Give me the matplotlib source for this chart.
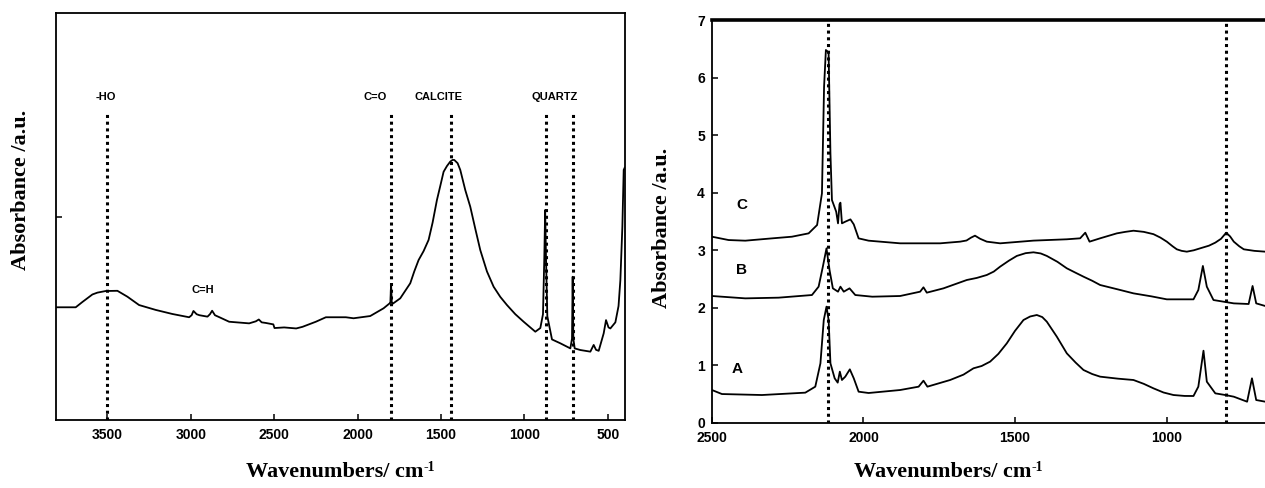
import matplotlib
matplotlib.use('Agg')
import matplotlib.pyplot as plt

plt.rcParams['font.family'] = ['Liberation Sans', 'DejaVu Sans']

# left panel: single spectrum
left_wn = [3808, 3690, 3650, 3590, 3560, 3510, 3440, 3380, 3310, 3210, 3110, 3010, 2995, 2984,
           2965, 2948, 2900, 2885, 2872, 2855, 2828, 2770, 2650, 2610, 2592, 2575, 2550,
           2505, 2498, 2440, 2368, 2330, 2250, 2190, 2070, 2024, 1924, 1844, 1808, 1803,
           1799, 1795, 1788, 1744, 1714, 1684, 1660, 1634, 1604, 1574, 1550, 1524, 1504,
           1484, 1464, 1444, 1430, 1420, 1400, 1384, 1354, 1324, 1294, 1264, 1224, 1184,
           1144, 1104, 1054, 1004, 964, 934, 904, 888, 880, 875, 870, 862, 834, 784, 724,
           714, 710, 706, 698, 664, 604, 584, 570, 554, 524, 510, 495, 484, 454, 435, 424,
           412, 404, 398]
left_abs = [0.554, 0.554, 0.580, 0.617, 0.626, 0.634, 0.635, 0.606, 0.565, 0.541, 0.521, 0.505,
            0.515, 0.536, 0.520, 0.515, 0.508, 0.520, 0.537, 0.515, 0.505, 0.483, 0.475, 0.485,
            0.494, 0.480, 0.477, 0.470, 0.452, 0.455, 0.450, 0.458, 0.483, 0.505, 0.505, 0.500,
            0.511, 0.549, 0.573, 0.580, 0.668, 0.580, 0.572, 0.598, 0.635, 0.672, 0.730, 0.786,
            0.830, 0.885, 0.970, 1.081, 1.150, 1.220, 1.248, 1.270, 1.278, 1.278, 1.262, 1.229,
            1.130, 1.048, 0.940, 0.835, 0.730, 0.655, 0.605, 0.565, 0.520, 0.483, 0.455, 0.434,
            0.452, 0.520, 0.800, 1.032, 0.800, 0.510, 0.396, 0.377, 0.352, 0.400, 0.704, 0.400,
            0.352, 0.344, 0.336, 0.369, 0.345, 0.340, 0.426, 0.491, 0.455, 0.450, 0.480, 0.560,
            0.688, 0.950, 1.229, 1.240]
left_xticks = [3500, 3000, 2500, 2000, 1500, 1000, 500]
left_marks = [3500, 1800, 1440, 872, 708]
left_labels = ['-HO', 'C=O', 'CALCITE', 'QUARTZ', 'C=H']
left_label_x = [3510, 1895, 1512, 815, 2928]
left_label_y = [1.585, 1.585, 1.585, 1.585, 0.64]

# right panel: samples A, B, C
right_wn_a = [2500, 2467, 2335, 2192, 2159, 2142, 2131, 2122, 2115, 2109, 2095, 2085, 2078,
              2071, 2060, 2045, 2032, 2016, 1983, 1879, 1818, 1802, 1789, 1714, 1670, 1637,
              1610, 1582, 1555, 1527, 1500, 1472, 1450, 1428, 1410, 1395, 1362, 1329, 1300,
              1274, 1245, 1219, 1160, 1109, 1075, 1043, 1010, 977, 940, 911, 895, 878, 867,
              839, 806, 778, 734, 718, 704, 674]
right_abs_a = [0.573, 0.503, 0.486, 0.527, 0.631, 1.037, 1.789, 2.021, 1.789, 1.037, 0.776,
               0.701, 0.892, 0.747, 0.805, 0.932, 0.776, 0.544, 0.521, 0.573, 0.631, 0.735,
               0.631, 0.747, 0.840, 0.950, 0.990, 1.066, 1.200, 1.384, 1.600, 1.789, 1.850,
               1.876, 1.840, 1.760, 1.500, 1.210, 1.050, 0.921, 0.850, 0.805, 0.770, 0.747,
               0.680, 0.602, 0.530, 0.486, 0.470, 0.469, 0.631, 1.256, 0.718, 0.515, 0.486,
               0.457, 0.370, 0.776, 0.399, 0.370]
right_wn_b = [2500, 2390, 2280, 2170, 2148, 2134, 2122, 2112, 2101, 2084, 2076, 2065, 2046,
              2027, 1971, 1879, 1813, 1802, 1791, 1736, 1659, 1626, 1593, 1570, 1549, 1520,
              1494, 1465, 1439, 1415, 1395, 1360, 1329, 1300, 1274, 1245, 1219, 1160, 1109,
              1050, 999, 911, 895, 880, 867, 845, 778, 729, 716, 704, 674]
right_abs_b = [2.206, 2.165, 2.177, 2.223, 2.368, 2.716, 3.034, 2.658, 2.339, 2.281, 2.368,
               2.281, 2.339, 2.223, 2.194, 2.206, 2.281, 2.357, 2.264, 2.339, 2.484, 2.520,
               2.571, 2.630, 2.716, 2.820, 2.902, 2.950, 2.965, 2.945, 2.902, 2.800, 2.687,
               2.610, 2.542, 2.470, 2.397, 2.320, 2.252, 2.200, 2.148, 2.148, 2.310, 2.728,
               2.368, 2.136, 2.078, 2.067, 2.380, 2.078, 2.032]
right_wn_c = [2500, 2445, 2390, 2302, 2236, 2181, 2153, 2137, 2130, 2124, 2118, 2115, 2109,
              2104, 2090, 2084, 2079, 2076, 2071, 2060, 2043, 2032, 2016, 1983, 1879, 1747,
              1681, 1660, 1645, 1632, 1615, 1593, 1549, 1439, 1329, 1285, 1268, 1254, 1219,
              1164, 1136, 1109, 1075, 1043, 1020, 999, 980, 966, 950, 933, 910, 889, 860, 839,
              820, 803, 790, 778, 760, 745, 710, 674]
right_abs_c = [3.236, 3.178, 3.167, 3.207, 3.236, 3.294, 3.439, 3.989, 5.842, 6.479, 6.450,
               6.421, 4.684, 3.873, 3.671, 3.468, 3.800, 3.827, 3.468, 3.497, 3.537, 3.450,
               3.207, 3.167, 3.121, 3.121, 3.150, 3.170, 3.220, 3.254, 3.200, 3.150, 3.121,
               3.168, 3.191, 3.208, 3.306, 3.150, 3.208, 3.294, 3.320, 3.340, 3.320, 3.280,
               3.220, 3.150, 3.070, 3.017, 2.990, 2.976, 3.000, 3.034, 3.080, 3.133, 3.200,
               3.306, 3.240, 3.150, 3.070, 3.017, 2.990, 2.976]
right_xticks = [2500, 2000, 1500, 1000]
right_yticks = [0, 1, 2, 3, 4, 5, 6, 7]
right_marks = [2117, 803]
sample_names = ['A', 'B', 'C']
sample_label_x = [2417, 2401, 2401]
sample_label_y = [0.94, 2.66, 3.79]

AXIS_FONT = dict(family='Liberation Serif', fontweight='bold', fontsize=16)
DOTS = (0, (1.0, 1.2))


def style_ticks(ax):
    ax.tick_params(direction='in', length=4, width=1.1, labelsize=10, pad=6)
    for lbl in ax.get_xticklabels() + ax.get_yticklabels():
        lbl.set_fontweight('bold')


def wavenumber_label(fig, ax, x, y):
    # main text plus a small "-1" superscript hung on its top-right corner
    t = fig.text(x, y, 'Wavenumbers/ cm', ha='center', va='center', **AXIS_FONT)
    ax.annotate('-1', xy=(1.0, 1.04), xycoords=t, ha='left', va='top',
                family='Liberation Serif', fontweight='bold', fontsize=10)
    return t


fig = plt.figure(figsize=(12.65, 4.88), dpi=100)

# ---- left panel
ax1 = fig.add_axes([0.0443, 0.1393, 0.4498, 0.834])
ax1.plot(left_wn, left_abs, color='black', linewidth=1.3)
for wn in left_marks:
    ax1.plot([wn, wn], [0, 1.51], color='black', linewidth=2.2, linestyle=DOTS)
for txt, x, y in zip(left_labels, left_label_x, left_label_y):
    ax1.text(x, y, txt, ha='center', va='center', fontsize=8, fontweight='bold')
ax1.set_xlim(3808, 396)
ax1.set_ylim(0, 2)
ax1.set_xticks(left_xticks)
ax1.set_yticks([1.0])
ax1.set_yticklabels([])
for sp in ax1.spines.values():
    sp.set_linewidth(1.3)
style_ticks(ax1)
wavenumber_label(fig, ax1, 335 / 1265, 1 - 472 / 488)
fig.text(21 / 1265, 1 - 190 / 488, 'Absorbance /a.u.', ha='center', va='center',
         rotation=90, **AXIS_FONT)

# ---- right panel
ax2 = fig.add_axes([0.5628, 0.1332, 0.4372, 0.8258])
ax2.plot(right_wn_a, right_abs_a, color='black', linewidth=1.3)
ax2.plot(right_wn_b, right_abs_b, color='black', linewidth=1.3)
ax2.plot(right_wn_c, right_abs_c, color='black', linewidth=1.3)
for wn in right_marks:
    ax2.plot([wn, wn], [0, 7], color='black', linewidth=2.2, linestyle=DOTS)
for name, x, y in zip(sample_names, sample_label_x, sample_label_y):
    ax2.text(x, y, name, ha='center', va='center', fontsize=11, fontweight='bold')
ax2.set_xlim(2500, 675)
ax2.set_ylim(0, 7)
ax2.set_xticks(right_xticks)
ax2.set_yticks(right_yticks)
ax2.spines['right'].set_visible(False)
ax2.spines['top'].set_linewidth(2.6)
ax2.spines['left'].set_linewidth(1.3)
ax2.spines['bottom'].set_linewidth(1.3)
style_ticks(ax2)
ax2.tick_params(axis='y', pad=5)
wavenumber_label(fig, ax2, 943 / 1265, 1 - 472 / 488)
fig.text(662 / 1265, 1 - 228 / 488, 'Absorbance /a.u.', ha='center', va='center',
         rotation=90, **AXIS_FONT)

fig.savefig('out.png', dpi=100)
